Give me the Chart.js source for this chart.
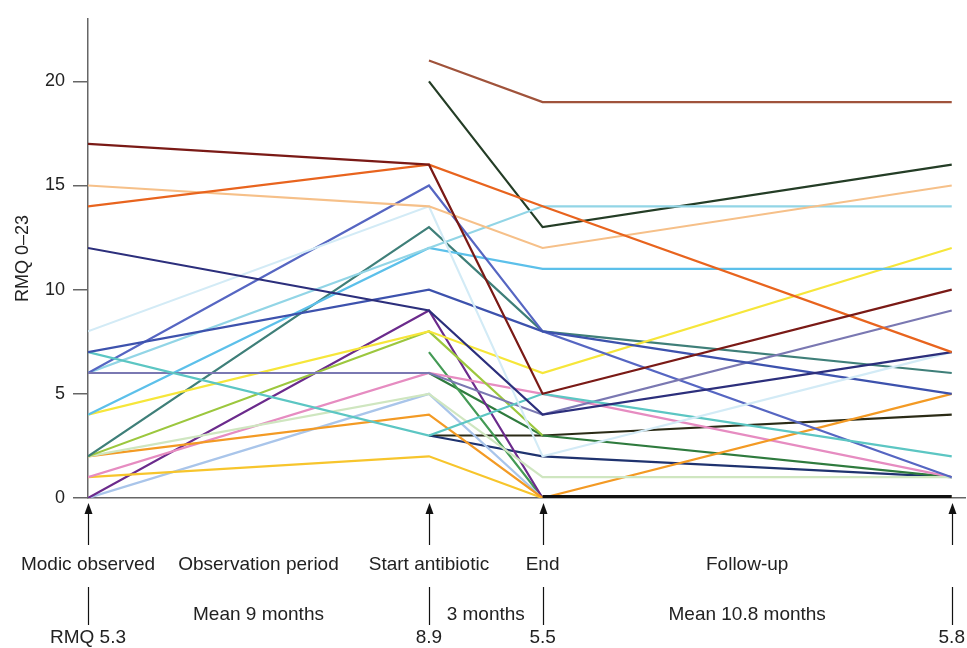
<!DOCTYPE html>
<html>
<head>
<meta charset="utf-8">
<title>RMQ over time</title>
<script src="https://cdn.jsdelivr.net/npm/chart.js@4/dist/chart.umd.min.js"></script>
<style>
    html, body { margin: 0; padding: 0; background: #fff; }
    #wrap { width: 967px; height: 648px; }
</style>
</head>
<body>
<div id="wrap"><canvas id="rmq-chart"></canvas></div>
<script>
// Time points (months since Modic changes were observed)
const timeMonths = [0, 9, 12, 22.8];
const timeLabels = ['Modic observed', 'Start antibiotic', 'End', ''];
const meanScores = ['RMQ 5.3', '8.9', '5.5', '5.8'];

// Periods between the time points
const periodNames = ['Observation period', '', 'Follow-up'];
const periodLengths = ['Mean 9 months', '3 months', 'Mean 10.8 months'];

// Y axis ticks
const yTicks = [0, 5, 10, 15, 20];

// RMQ score per patient: [Modic observed, start antibiotic, end, follow-up]
const patientScores = [
    [17, 16, 5, 10],
    [14, 16, 14, 7],
    [15, 14, 12, 15],
    [12, 9, 4, 7],
    [8, 14, 2, 7],
    [7, 10, 8, 5],
    [7, 3, 5, 2],
    [6, 6, 4, 9],
    [6, 15, 8, 1],
    [6, 12, 14, 14],
    [4, 12, 11, 11],
    [4, 8, 6, 12],
    [2, 13, 8, 6],
    [2, 8, 3, null],
    [2, 5, 1, 1],
    [2, 4, 0, 5],
    [1, 6, 5, 1],
    [1, 2, 0, 0],
    [0, 9, 0, 0],
    [0, 5, 0, 0],
    [null, 7, 0, 0],
    [null, 6, 3, 1],
    [null, 3, 2, 1],
    [null, 3, 3, 4],
    [null, 21, 19, 19],
    [null, 20, 13, 16]
];

// Patients still at zero after treatment (drawn as one thick line)
const zeroScores = [null, null, 0, 0];

const patientColours = [
    '#7a1a16', '#e8641e', '#f6c089', '#2c2f7c', '#d3ebf6',
    '#3d52ad', '#5cc6c3', '#7a78b2', '#5666c2', '#92d5e6',
    '#5cc0ea', '#f6e63a', '#3f7f79', '#9cc73e', '#cfe6c0',
    '#f39a24', '#e68cc1', '#f7c52c', '#6b2b8c', '#a9c5ea',
    '#449a55', '#2f7b3e', '#1f336f', '#2b2b16', '#a0533b',
    '#243d26'
];

const FONT = '"Liberation Sans", Arial, sans-serif';
const TEXT = '#222';
const AXIS = '#666';

/**
 * Arrows and labels under the x axis
 */
const timelinePlugin = {
    id: 'timeline',
    afterDraw(chart) {
        const ctx = chart.ctx;
        const x = chart.scales.x;
        const bottom = chart.chartArea.bottom;

        ctx.save();
        ctx.strokeStyle = '#111';
        ctx.fillStyle = '#111';
        ctx.lineWidth = 1.2;

        timeMonths.forEach(function(t) {
            const px = Math.round(x.getPixelForValue(t)) + 0.5;

            // Arrow pointing up at the axis
            ctx.beginPath();
            ctx.moveTo(px, bottom + 12);
            ctx.lineTo(px, bottom + 47);
            ctx.stroke();
            ctx.beginPath();
            ctx.moveTo(px, bottom + 5);
            ctx.lineTo(px - 4, bottom + 16);
            ctx.lineTo(px + 4, bottom + 16);
            ctx.closePath();
            ctx.fill();

            // Tick line in the second row
            ctx.beginPath();
            ctx.moveTo(px, bottom + 89);
            ctx.lineTo(px, bottom + 127);
            ctx.stroke();
        });

        ctx.font = '19px ' + FONT;
        ctx.fillStyle = TEXT;
        ctx.textAlign = 'center';
        ctx.textBaseline = 'middle';

        // Time point names and mean scores
        timeMonths.forEach(function(t, i) {
            const px = x.getPixelForValue(t);
            if (timeLabels[i]) ctx.fillText(timeLabels[i], px, bottom + 67);
            ctx.fillText(meanScores[i], px, bottom + 140);
        });

        // Period names and durations, centred between time points
        for (let i = 0; i < periodNames.length; i++) {
            const mid = (x.getPixelForValue(timeMonths[i]) + x.getPixelForValue(timeMonths[i + 1])) / 2;
            if (periodNames[i]) ctx.fillText(periodNames[i], mid, bottom + 67);
            ctx.fillText(periodLengths[i], mid, bottom + 117);
        }

        ctx.restore();
    }
};

/**
 * Build datasets from the patient arrays
 */
function buildDatasets() {
    const datasets = [];

    // Zero line first so it is drawn on top
    datasets.push({
        data: zeroScores.map((v, i) => ({ x: timeMonths[i], y: v })),
        borderColor: '#111',
        borderWidth: 6,
        pointRadius: 0,
        borderCapStyle: 'butt'
    });

    patientScores.forEach(function(scores, p) {
        datasets.push({
            data: scores.map((v, i) => ({ x: timeMonths[i], y: v })),
            borderColor: patientColours[p],
            borderWidth: 2.2,
            pointRadius: 0,
            tension: 0
        });
    });

    return datasets;
}

document.addEventListener('DOMContentLoaded', function() {
    const ctx = document.getElementById('rmq-chart');

    new Chart(ctx, {
        type: 'line',
        data: { datasets: buildDatasets() },
        options: {
            responsive: true,
            maintainAspectRatio: false,
            animation: false,
            spanGaps: false,
            layout: {
                padding: { top: 16, right: 2, bottom: 150, left: 0 }
            },
            plugins: {
                legend: { display: false },
                tooltip: { enabled: false }
            },
            scales: {
                x: {
                    type: 'linear',
                    min: 0,
                    max: 23.15,
                    grid: { display: false },
                    border: { display: true, color: AXIS, width: 1.5 },
                    ticks: { display: false },
                    afterFit(scale) { scale.height = 0; }
                },
                y: {
                    min: 0,
                    max: 23,
                    afterBuildTicks(scale) {
                        scale.ticks = yTicks.map(v => ({ value: v }));
                    },
                    grid: {
                        drawOnChartArea: false,
                        drawTicks: true,
                        tickLength: 15,
                        color: AXIS,
                        lineWidth: 1.5
                    },
                    border: { display: true, color: AXIS, width: 1.5 },
                    ticks: {
                        color: TEXT,
                        padding: 8,
                        font: { family: FONT, size: 18 }
                    },
                    title: {
                        display: true,
                        text: 'RMQ 0–23',
                        color: TEXT,
                        font: { family: FONT, size: 18 },
                        padding: { top: 12, bottom: 0 }
                    },
                    afterFit(scale) { scale.width = 88; }
                }
            }
        },
        plugins: [timelinePlugin]
    });
});
</script>
</body>
</html>
